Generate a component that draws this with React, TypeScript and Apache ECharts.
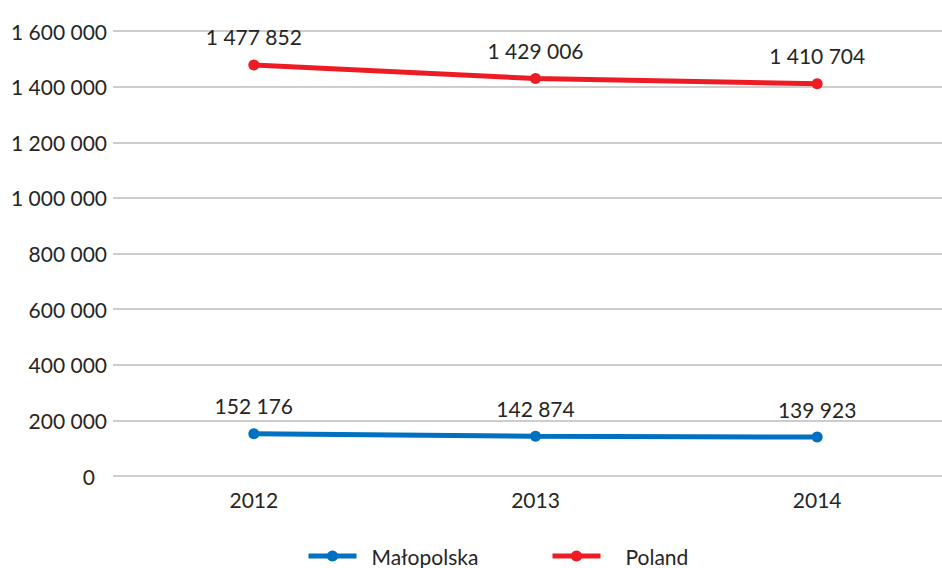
import React, { useEffect, useRef } from "react";
import * as echarts from "echarts";

const categories = ["2012", "2013", "2014"];
const malopolska = [152176, 142874, 139923];
const poland = [1477852, 1429006, 1410704];
const seriesNames = ["Małopolska", "Poland"];

const fmt = (v: number) => String(Math.round(v)).replace(/\B(?=(\d{3})+(?!\d))/g, " ");

const FONT = "Lato, 'Open Sans', sans-serif";
const TXT = "#262626";
const FS = 21;

export default function App() {
  const ref = useRef<HTMLDivElement>(null);
  useEffect(() => {
    document.body.style.margin = "0";
    const chart = echarts.init(ref.current!, null, { renderer: "svg" });
    const mk = (name: string, data: number[], color: string) => ({
      name,
      type: "line",
      data,
      symbol: "circle",
      symbolSize: 11,
      lineStyle: { width: 5, color },
      itemStyle: { color },
      label: {
        show: true,
        position: "top",
        distance: 12,
        formatter: (p: any) => fmt(p.value),
        fontFamily: FONT,
        fontSize: FS,
        color: TXT,
      },
    });
    const legendBase = {
      top: 544,
      padding: 0,
      itemWidth: 48,
      itemHeight: 14,
      lineStyle: { width: 5 },
      textStyle: { fontFamily: FONT, fontSize: FS, color: TXT, lineHeight: 24 },
    };
    chart.setOption({
      animation: false,
      textStyle: { fontFamily: FONT },
      grid: { left: 113, top: 31, width: 845, height: 445, containLabel: false },
      legend: [
        { ...legendBase, left: 306, data: [seriesNames[0]], textStyle: { ...legendBase.textStyle, padding: [0, 0, 0, 10] } },
        { ...legendBase, left: 550, data: [seriesNames[1]], textStyle: { ...legendBase.textStyle, padding: [0, 0, 0, 20] } },
      ],
      xAxis: {
        type: "category",
        data: categories,
        boundaryGap: true,
        axisLine: { show: false },
        axisTick: { show: false },
        axisLabel: { fontFamily: FONT, fontSize: FS, color: TXT, margin: 13 },
      },
      yAxis: {
        type: "value",
        min: 0,
        max: 1600000,
        interval: 200000,
        axisLine: { show: false },
        axisTick: { show: false },
        splitLine: { lineStyle: { color: "#BCBCBC", width: 1.5 } },
        axisLabel: {
          fontFamily: FONT,
          fontSize: FS,
          color: TXT,
          margin: 6,
          formatter: (v: number) => (v === 0 ? "{z|0}" : fmt(v)),
          rich: { z: { fontFamily: FONT, fontSize: FS, color: TXT, padding: [0, 12, 0, 0] } },
        },
      },
      series: [mk(seriesNames[0], malopolska, "#0070C0"), mk(seriesNames[1], poland, "#ED1C24")],
    });
    return () => chart.dispose();
  }, []);
  return (
    <div style={{ width: 942, height: 568, overflow: "hidden", position: "relative" }}>
      <div ref={ref} style={{ width: 980, height: 568 }} />
    </div>
  );
}
